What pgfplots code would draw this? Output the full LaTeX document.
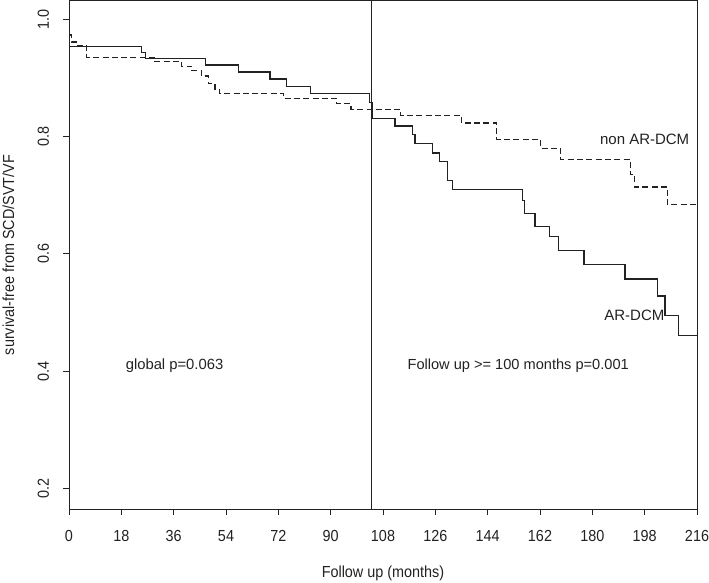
\documentclass[border=0pt]{standalone}
\usepackage{fontspec}
\setmainfont{Liberation Sans}
\newfontfamily\axisfont[FakeStretch=0.9]{Liberation Sans}
\usepackage{pgfplots}
\pgfplotsset{compat=1.18}
\definecolor{ink}{HTML}{222222}
\pgfplotstableread{
x y
0 0.953
25.0 0.943
26.2 0.933
47.0 0.922
58.2 0.910
69.1 0.898
74.9 0.885
83.1 0.873
103.3 0.858
104.2 0.831
112.1 0.818
118.1 0.803
119.0 0.788
125.1 0.772
127.4 0.757
130.2 0.725
132.0 0.710
156.0 0.691
156.8 0.669
160.3 0.647
165.2 0.629
168.3 0.605
177.1 0.582
191.2 0.557
202.5 0.528
205.0 0.495
209.6 0.461
216 0.461
}\ardcm
\pgfplotstableread{
x y
0 0.973
0.9 0.961
2.6 0.955
6.1 0.935
29.6 0.928
38.8 0.920
42.2 0.912
45.6 0.903
47.9 0.890
50.2 0.880
51.9 0.873
73.9 0.865
92.1 0.856
97.0 0.846
114.1 0.836
135.1 0.823
147.1 0.795
162.3 0.780
169.1 0.761
193.0 0.735
194.5 0.714
205.8 0.684
216 0.684
}\nonardcm
\begin{document}
\begin{tikzpicture}
\begin{axis}[
  at={(69pt,73pt)}, anchor=south west,
  scale only axis, width=628pt, height=508pt,
  xmin=0, xmax=216, ymin=0.165, ymax=1.031,
  xtick={0,18,36,54,72,90,108,126,144,162,180,198,216},
  xticklabels={0,18,36,54,72,90,108,126,144,162,180,198,216},
  ytick={0.2,0.4,0.6,0.8,1.0},
  yticklabels={0.2,0.4,0.6,0.8,1.0},
  tick pos=left, tick align=outside, major tick length=6pt,
  tick style={ink, line width=1pt},
  axis line style={ink, line width=1pt},
  ticklabel style={font=\axisfont\fontsize{16}{16}\selectfont, text=ink},
  xticklabel style={anchor=north, yshift=-11.5pt},
  yticklabel style={xshift=-10.5pt, rotate=90, anchor=south},
  xlabel={Follow up (months)},
  ylabel={survival-free from SCD/SVT/VF},
  label style={font=\axisfont\fontsize{16}{16}\selectfont, text=ink},
  xlabel style={at={(axis description cs:0.5,-0.126)}, anchor=center},
  ylabel style={at={(axis description cs:-0.0963,0.5)}, anchor=center},
  clip=true,
]
\addplot[const plot, ink, line width=1.2pt] table[x=x,y=y] {\ardcm};
\addplot[const plot, ink, line width=1.2pt, dash pattern=on 6pt off 3.3pt] table[x=x,y=y] {\nonardcm};
\draw[ink, line width=1pt] (axis cs:104,0.165) -- (axis cs:104,1.031);
\node[font=\fontsize{14.8}{14.8}\selectfont, text=ink] at (axis cs:36.3,0.409) {global p=0.063};
\node[font=\fontsize{14.6}{14.6}\selectfont, text=ink] at (axis cs:154.5,0.409) {Follow up >= 100 months p=0.001};
\node[font=\fontsize{15}{15}\selectfont, text=ink] at (axis cs:198.0,0.795) {non AR-DCM};
\node[font=\fontsize{15}{15}\selectfont, text=ink, anchor=east, inner sep=1pt] at (axis cs:205.2,0.495) {AR-DCM};
\end{axis}
\pgfresetboundingbox
\path (0,0) rectangle (709pt,582pt);
\end{tikzpicture}
\end{document}
